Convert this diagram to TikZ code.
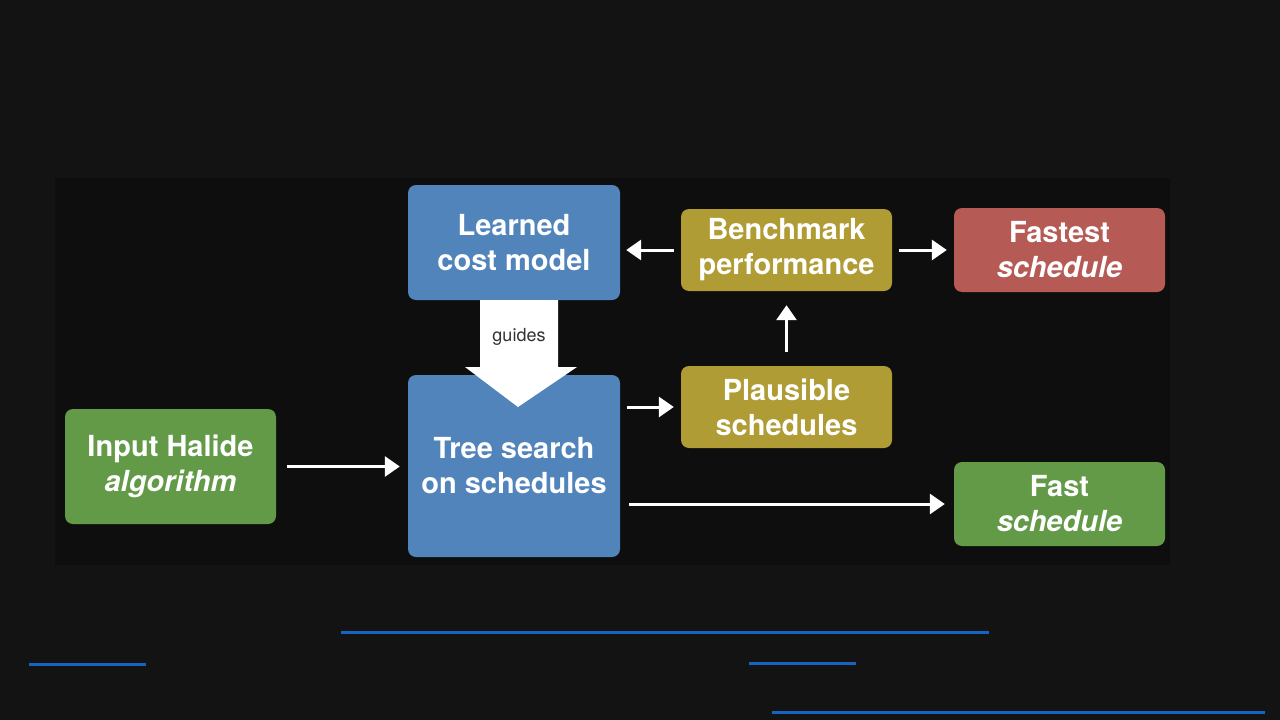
\documentclass[tikz,border=0pt]{standalone}
\usepackage{fontspec}
\setmainfont{TeX Gyre Heros}
\usepackage{tikz}
\usetikzlibrary{arrows.meta, positioning, calc}
\definecolor{pagebg}{RGB}{19,19,19}
\definecolor{slidebg}{RGB}{14,14,14}
\definecolor{hlblue}{RGB}{82,132,188}
\definecolor{hlgreen}{RGB}{98,154,72}
\definecolor{hlolive}{RGB}{176,156,52}
\definecolor{hlred}{RGB}{182,90,86}
\definecolor{linkblue}{RGB}{21,101,192}
\definecolor{guidetext}{RGB}{50,50,50}
\tikzset{
  box/.style={rectangle, rounded corners=8pt, draw=none,
    text=white, align=center, inner sep=0pt,
    font=\fontsize{29}{35}\selectfont\bfseries},
  bluebox/.style={box, fill=hlblue, minimum width=212pt},
  greenbox/.style={box, fill=hlgreen, minimum width=211pt, minimum height=115pt},
  olivebox/.style={box, fill=hlolive, minimum width=211pt, minimum height=82pt},
  redbox/.style={box, fill=hlred, minimum width=211pt, minimum height=84pt},
  arrow/.style={-{Triangle[length=15pt, width=20pt]}, line width=3pt, color=white},
  link/.style={line width=3pt, color=linkblue}
}

\begin{document}
\begin{tikzpicture}[x=1pt, y=-1pt]
  % Background
  \fill[pagebg] (0,0) rectangle (1280,720);
  \fill[slidebg] (55,178) rectangle (1170,565);
  \useasboundingbox (0,0) rectangle (1280,720);

  % Nodes
  \node[bluebox, minimum height=115pt] (model) at (514,242.5) {Learned\\cost model};
  \node[bluebox, minimum height=182pt] (search) at (514,466) {Tree search\\on schedules};
  \node[greenbox] (input) at (170.5,466.5) {Input Halide\\\itshape algorithm};
  \node[olivebox] (bench) at (786.5,250) {Benchmark\\performance};
  \node[olivebox] (plaus) at (786.5,407) {Plausible\\schedules};
  \node[redbox] (fastest) at (1059.5,250) {Fastest\\\itshape schedule};
  \node[greenbox, minimum height=84pt] (fast) at (1059.5,504) {Fast\\\itshape schedule};

  % Guides block arrow
  \fill[white] (model.south -| 480,0) -- (model.south -| 558,0) -- (558,367) -- (577,367)
    -- (518,407) -- (465,367) -- (480,367) -- cycle;
  \node[font=\fontsize{18}{20}\selectfont, text=guidetext] (guides) at (519,337) {guides};

  % Connections
  \draw[arrow, shorten <=11pt, shorten >=8pt] (input.east) -- (search.west |- input.east);
  \draw[arrow, shorten <=7pt, shorten >=7pt] (search.east |- plaus.west) -- (plaus.west);
  \draw[arrow, shorten <=9pt, shorten >=9pt] (search.east |- fast.west) -- (fast.west);
  \draw[arrow, shorten <=14pt, shorten >=14pt] (plaus.north) -- (bench.south);
  \draw[arrow, shorten <=7pt, shorten >=6pt] (bench.west) -- (model.east |- bench.west);
  \draw[arrow, shorten <=7pt, shorten >=7pt] (bench.east) -- (fastest.west);

  % Link underlines
  \draw[link] (341,632) -- (989,632);
  \draw[link] (29,664) -- (146,664);
  \draw[link] (749,663) -- (856,663);
  \draw[link] (772,712) -- (1265,712);
\end{tikzpicture}
\end{document}
